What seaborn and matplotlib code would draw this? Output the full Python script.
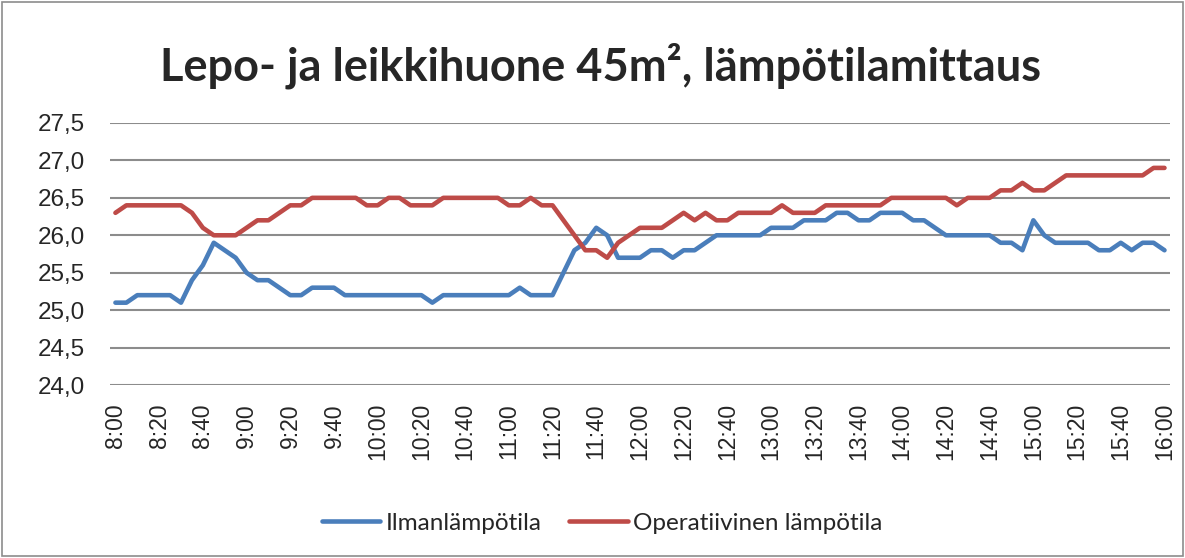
import pandas as pd
import matplotlib.pyplot as plt
import seaborn as sns
from matplotlib.patches import Rectangle

# Mittausajat 5 min välein 8:00 - 16:00
times = [f"{8 + m // 60}:{m % 60:02d}" for m in range(0, 481, 5)]

ilma = [25.1, 25.1, 25.2, 25.2, 25.2, 25.2, 25.1, 25.4, 25.6, 25.9,
        25.8, 25.7, 25.5, 25.4, 25.4, 25.3, 25.2, 25.2, 25.3, 25.3,
        25.3, 25.2, 25.2, 25.2, 25.2, 25.2, 25.2, 25.2, 25.2, 25.1,
        25.2, 25.2, 25.2, 25.2, 25.2, 25.2, 25.2, 25.3, 25.2, 25.2,
        25.2, 25.5, 25.8, 25.9, 26.1, 26.0, 25.7, 25.7, 25.7, 25.8,
        25.8, 25.7, 25.8, 25.8, 25.9, 26.0, 26.0, 26.0, 26.0, 26.0,
        26.1, 26.1, 26.1, 26.2, 26.2, 26.2, 26.3, 26.3, 26.2, 26.2,
        26.3, 26.3, 26.3, 26.2, 26.2, 26.1, 26.0, 26.0, 26.0, 26.0,
        26.0, 25.9, 25.9, 25.8, 26.2, 26.0, 25.9, 25.9, 25.9, 25.9,
        25.8, 25.8, 25.9, 25.8, 25.9, 25.9, 25.8]

operatiivinen = [26.3, 26.4, 26.4, 26.4, 26.4, 26.4, 26.4, 26.3, 26.1, 26.0,
                 26.0, 26.0, 26.1, 26.2, 26.2, 26.3, 26.4, 26.4, 26.5, 26.5,
                 26.5, 26.5, 26.5, 26.4, 26.4, 26.5, 26.5, 26.4, 26.4, 26.4,
                 26.5, 26.5, 26.5, 26.5, 26.5, 26.5, 26.4, 26.4, 26.5, 26.4,
                 26.4, 26.2, 26.0, 25.8, 25.8, 25.7, 25.9, 26.0, 26.1, 26.1,
                 26.1, 26.2, 26.3, 26.2, 26.3, 26.2, 26.2, 26.3, 26.3, 26.3,
                 26.3, 26.4, 26.3, 26.3, 26.3, 26.4, 26.4, 26.4, 26.4, 26.4,
                 26.4, 26.5, 26.5, 26.5, 26.5, 26.5, 26.5, 26.4, 26.5, 26.5,
                 26.5, 26.6, 26.6, 26.7, 26.6, 26.6, 26.7, 26.8, 26.8, 26.8,
                 26.8, 26.8, 26.8, 26.8, 26.8, 26.9, 26.9]

series_names = ['Ilmanlämpötila', 'Operatiivinen lämpötila']
colors = ['#4A7EBB', '#BE4B48']
y_ticks = [24.0, 24.5, 25.0, 25.5, 26.0, 26.5, 27.0, 27.5]

df = pd.DataFrame({'aika': range(len(times)), series_names[0]: ilma, series_names[1]: operatiivinen})
df = df.melt(id_vars='aika', var_name='sarja', value_name='lampotila')

sns.set_style('white')
plt.rcParams['font.family'] = ['Lato', 'DejaVu Sans']

fig = plt.figure(figsize=(11.85, 5.58), dpi=100)
ax = fig.add_axes([0.0928, 0.31, 0.8945, 0.4696])

sns.lineplot(data=df, x='aika', y='lampotila', hue='sarja', palette=colors,
             linewidth=3.3, ax=ax)

ax.set_xlim(-0.5, len(times) - 0.5)
ax.set_ylim(24.0, 27.5)
ax.set_yticks(y_ticks)
ax.set_yticklabels([f"{v:.1f}".replace('.', ',') for v in y_ticks], fontsize=17.5,
                   family=['Liberation Sans', 'DejaVu Sans'])
ax.set_xticks(range(0, len(times), 4))
ax.set_xticklabels(times[::4], rotation=90, fontsize=16.5,
                   family=['Liberation Sans', 'DejaVu Sans'])
ax.tick_params(axis='both', length=0)
ax.tick_params(axis='y', pad=18)
ax.tick_params(axis='x', pad=13)
ax.set_xlabel('')
ax.set_ylabel('')

ax.yaxis.grid(True, color='#8c8c8c', linewidth=1.5)
ax.set_axisbelow(True)
for s in ax.spines.values():
    s.set_visible(False)

fig.text(0.507, 0.883, 'Lepo- ja leikkihuone 45m², lämpötilamittaus', fontsize=32.5,
         fontweight='bold', ha='center', va='center')

handles, labels = ax.get_legend_handles_labels()
ax.legend(handles, labels, loc='center', bbox_to_anchor=(0.508, 0.0625),
          bbox_transform=fig.transFigure, ncol=2, frameon=False, fontsize=17.5,
          handlelength=2.4, columnspacing=1.15, handletextpad=0.22)

fig.patches.append(Rectangle((0.002, 0.003), 0.996, 0.994, transform=fig.transFigure,
                             fill=False, edgecolor='#8c8c8c', linewidth=1.2))

fig.savefig('out.png', dpi=100)
